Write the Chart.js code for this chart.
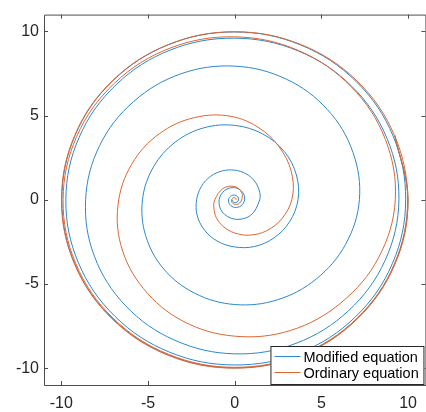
<!DOCTYPE html>
<html lang="en">
<head>
  <meta charset="UTF-8">
  <title>Spirals</title>
  <script src="https://cdn.jsdelivr.net/npm/chart.js"></script>
  <style>
    body { margin: 0; background: #fff; }
    canvas { display: block; }
  </style>
</head>
<body>
  <canvas id="spiralChart" width="426" height="412"></canvas>

  <script>
    // spirals as (angle in degrees, radius), going outwards counter-clockwise
    const modifiedAngle = [-900, -855, -810, -765, -720, -675, -630, -585, -540, -495, -450, -405, -360, -315,
      -270, -225, -180, -135, -90, -45,
      0, 22.5, 45, 67.5, 90, 112.5, 135, 157.5, 180, 202.5, 225, 247.5, 270, 292.5, 315, 337.5,
      360, 382.5, 405, 427.5, 450, 472.5, 495, 517.5, 540, 562.5, 585, 607.5, 630, 652.5, 675, 697.5,
      720, 742.5, 765, 787.5, 810, 832.5, 855, 877.5, 900, 922.5, 945, 967.5, 990, 1012.5, 1035, 1057.5,
      1080, 1102.5, 1125, 1147.5, 1170, 1192.5, 1215, 1237.5, 1260, 1282.5, 1305, 1327.5, 1350, 1372.5, 1395, 1417.5,
      1440, 1462.5, 1485, 1507.5, 1530, 1552.5, 1575, 1597.5, 1620, 1642.5, 1665, 1687.5, 1710, 1732.5, 1755, 1777.5,
      1800, 1822.5];
    const modifiedRadius = [0.13, 0.15, 0.17, 0.19, 0.22, 0.25, 0.28, 0.32, 0.36, 0.40, 0.45, 0.51, 0.57, 0.64,
      0.72, 0.80, 0.90, 1.02, 1.15, 1.30,
      1.44, 1.52, 1.60, 1.68, 1.76, 1.86, 1.97, 2.08, 2.2, 2.35, 2.5, 2.65, 2.8, 3.0, 3.2, 3.42,
      3.65, 3.85, 4.05, 4.23, 4.42, 4.63, 4.85, 5.08, 5.32, 5.56, 5.8, 6.01, 6.22, 6.43, 6.65, 6.92,
      7.19, 7.38, 7.57, 7.76, 7.94, 8.1, 8.25, 8.43, 8.6, 8.76, 8.9, 9.03, 9.15, 9.23, 9.3, 9.39,
      9.47, 9.51, 9.54, 9.57, 9.6, 9.64, 9.67, 9.71, 9.74, 9.76, 9.78, 9.8, 9.81, 9.83, 9.84, 9.85,
      9.86, 9.89, 9.92, 9.95, 9.97, 9.97, 9.97, 9.97, 9.97, 9.98, 9.98, 9.98, 9.98, 9.99, 9.99, 9.99,
      9.99, 9.99];

    const ordinaryAngle = [-360, -315, -270, -225, -180, -135, -90, -45, 0, 45, 90, 135,
      180, 202.5, 225, 247.5, 270, 292.5, 315, 337.5,
      360, 382.5, 405, 427.5, 450, 472.5, 495, 517.5, 540, 562.5, 585, 607.5, 630, 652.5, 675, 697.5,
      720, 742.5, 765, 787.5, 810, 832.5, 855, 877.5, 900, 922.5, 945, 967.5, 990, 1012.5, 1035, 1057.5,
      1080, 1102.5, 1125, 1147.5, 1170, 1192.5, 1215, 1237.5, 1260, 1282.5, 1305, 1327.5, 1350, 1372.5, 1395, 1417.5,
      1440, 1462.5];
    const ordinaryRadius = [0.08, 0.1, 0.12, 0.15, 0.18, 0.22, 0.27, 0.33, 0.4, 0.58, 0.79, 0.95,
      1.15, 1.3, 1.5, 1.72, 1.97, 2.27, 2.6, 2.94,
      3.29, 3.6, 3.95, 4.4, 4.91, 5.35, 5.8, 6.25, 6.69, 7.1, 7.45, 7.8, 8.1, 8.4, 8.66, 8.98,
      9.26, 9.4, 9.5, 9.6, 9.68, 9.75, 9.8, 9.86, 9.9, 9.92, 9.93, 9.94, 9.95, 9.955, 9.96, 9.965,
      9.97, 9.975, 9.98, 9.98, 9.98, 9.985, 9.99, 9.99, 9.99, 9.995, 10, 10, 10, 10, 10, 10,
      10, 10];

    const xTicks = [-10, -5, 0, 5, 10];
    const yTicks = [-10, -5, 0, 5, 10];
    const seriesNames = ['Modified equation', 'Ordinary equation'];
    const seriesColors = ['#2a88cc', '#df6532'];

    // polar readings -> x/y points for the scatter line
    const toPoints = (angles, radii) => angles.map((a, i) => ({
      x: radii[i] * Math.cos(a * Math.PI / 180),
      y: radii[i] * Math.sin(a * Math.PI / 180)
    }));
    const font = '"Liberation Sans", Arial, Helvetica, sans-serif';

    // box with inward ticks + legend in the lower right corner
    const boxPlugin = {
      id: 'boxPlugin',
      afterDraw(chart) {
        const { ctx, chartArea: a, scales } = chart;
        ctx.save();
        ctx.strokeStyle = '#4d4d4d';
        ctx.lineWidth = 1;
        ctx.beginPath();
        ctx.rect(a.left + 0.5, a.top + 0.5, a.right - a.left, a.bottom - a.top);
        xTicks.forEach(v => {
          const px = Math.round(scales.x.getPixelForValue(v)) + 0.5;
          ctx.moveTo(px, a.bottom); ctx.lineTo(px, a.bottom - 4);
          ctx.moveTo(px, a.top); ctx.lineTo(px, a.top + 4);
        });
        yTicks.forEach(v => {
          const py = Math.round(scales.y.getPixelForValue(v)) + 0.5;
          ctx.moveTo(a.left, py); ctx.lineTo(a.left + 4, py);
          ctx.moveTo(a.right, py); ctx.lineTo(a.right - 4, py);
        });
        ctx.stroke();

        const lx = a.right - 155, ly = a.bottom - 39;
        ctx.fillStyle = '#fff';
        ctx.fillRect(lx, ly, 154, 39);
        ctx.strokeStyle = '#262626';
        ctx.strokeRect(lx + 0.5, ly + 0.5, 153, 38);
        ctx.font = '14.5px ' + font;
        ctx.textBaseline = 'middle';
        seriesNames.forEach((name, i) => {
          const ry = ly + 10.5 + i * 16;
          ctx.strokeStyle = seriesColors[i];
          ctx.beginPath();
          ctx.moveTo(lx + 4, ry); ctx.lineTo(lx + 30, ry);
          ctx.stroke();
          ctx.fillStyle = '#000';
          ctx.fillText(name, lx + 33, ry + 1);
        });
        ctx.restore();
      }
    };

    new Chart(document.getElementById('spiralChart'), {
      type: 'scatter',
      data: {
        datasets: [
          { label: seriesNames[0], data: toPoints(modifiedAngle, modifiedRadius), borderColor: seriesColors[0], order: 2 },
          { label: seriesNames[1], data: toPoints(ordinaryAngle, ordinaryRadius), borderColor: seriesColors[1], order: 1 }
        ]
      },
      options: {
        responsive: false,
        animation: false,
        layout: { padding: { top: 7, left: 0, right: 0, bottom: 0 } },
        elements: {
          point: { radius: 0, hoverRadius: 0 },
          line: { borderWidth: 1, tension: 0.36, fill: false }
        },
        datasets: { scatter: { showLine: true } },
        plugins: { legend: { display: false }, tooltip: { enabled: false } },
        scales: {
          x: {
            min: -11, max: 11,
            afterBuildTicks: s => { s.ticks = xTicks.map(v => ({ value: v })); },
            afterFit: s => { s.height = 27; },
            grid: { display: false, drawTicks: false },
            border: { display: false },
            ticks: { color: '#262626', padding: 9, font: { size: 16, family: font } }
          },
          y: {
            min: -11, max: 11,
            afterBuildTicks: s => { s.ticks = yTicks.map(v => ({ value: v })); },
            afterFit: s => { s.width = 44; },
            grid: { display: false, drawTicks: false },
            border: { display: false },
            ticks: { color: '#262626', padding: 5, font: { size: 16, family: font } }
          }
        }
      },
      plugins: [boxPlugin]
    });
  </script>
</body>
</html>
